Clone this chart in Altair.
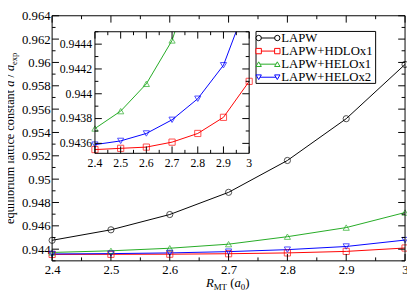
import altair as alt
import pandas as pd

# ---------------- data ----------------
R = [2.4, 2.5, 2.6, 2.7, 2.8, 2.9, 3.0]
series_names = ["LAPW", "LAPW+HDLOx1", "LAPW+HELOx1", "LAPW+HELOx2"]
LAPW = [0.94476, 0.94566, 0.94697, 0.94887, 0.95160, 0.95518, 0.95983]
HDLOx1 = [0.94355, 0.94356, 0.94357, 0.94361, 0.94368, 0.94381, 0.94410]
HELOx1 = [0.94372, 0.94386, 0.94408, 0.94443, 0.94507, 0.94585, 0.94714]
HELOx2 = [0.94359, 0.94362, 0.94368, 0.94379, 0.94396, 0.94423, 0.94478]
colors = ["#000000", "#ff0000", "#22aa22", "#0000ff"]
shapes = ["circle", "square", "triangle-up", "triangle-down"]

x_major = [2.4, 2.5, 2.6, 2.7, 2.8, 2.9, 3.0]
x_minor = [2.45, 2.55, 2.65, 2.75, 2.85, 2.95]
y_major = [0.944, 0.946, 0.948, 0.95, 0.952, 0.954, 0.956, 0.958, 0.96, 0.962, 0.964]
y_minor = [0.943, 0.945, 0.947, 0.949, 0.951, 0.953, 0.955, 0.957, 0.959, 0.961, 0.963]
iy_major = [0.9436, 0.9438, 0.944, 0.9442, 0.9444]
iy_minor = [0.9437, 0.9439, 0.9441, 0.9443, 0.9445]

FONT = "Liberation Serif"
W, H = 360, 250
IX0, IX1, IY0, IY1 = 43.7, 201, 16.3, 140.3
MAJ, MIN = 7, 3.5

rows = []
for name, vals in zip(series_names, [LAPW, HDLOx1, HELOx1, HELOx2]):
    for r, v in zip(R, vals):
        rows.append({"R": r, "v": v, "series": name})
df = pd.DataFrame(rows)
one = pd.DataFrame({"a": [0]})

xs_main = alt.Scale(domain=[2.4, 3.0], range=[0, W], nice=False, zero=False)
ys_main = alt.Scale(domain=[0.943, 0.964], range=[H, 0], nice=False, zero=False)
xs_in = alt.Scale(domain=[2.4, 3.0], range=[IX0, IX1], nice=False, zero=False)
ys_in = alt.Scale(domain=[0.94352, 0.9445], range=[IY1, IY0], nice=False, zero=False)
cscale = alt.Scale(domain=series_names, range=colors)
sscale = alt.Scale(domain=series_names, range=shapes)

def tdf(vals):
    return pd.DataFrame({"t": vals})

# ---------------- main data ----------------
main_line = alt.Chart(df).mark_line(strokeWidth=1).encode(
    x=alt.X("R:Q", scale=xs_main, axis=alt.Axis(values=x_major, format=".1~f", ticks=False, tickSize=0,
            domain=False, grid=False, title=None, labelFont=FONT, labelFontSize=13,
            labelColor="black", labelPadding=3, labelFlush=False, orient="bottom")),
    y=alt.Y("v:Q", scale=ys_main, axis=alt.Axis(values=y_major, format=".3~f", ticks=False, tickSize=0,
            domain=False, grid=False, title=None, labelFont=FONT, labelFontSize=13,
            labelColor="black", labelPadding=2, labelFlush=False, orient="left")),
    color=alt.Color("series:N", scale=cscale, legend=None),
)
main_pts = alt.Chart(df).mark_point(filled=False, size=40, strokeWidth=1).encode(
    x=alt.X("R:Q", scale=xs_main, axis=None),
    y=alt.Y("v:Q", scale=ys_main, axis=None),
    color=alt.Color("series:N", scale=cscale, legend=None),
    shape=alt.Shape("series:N", scale=sscale, legend=None),
)

# ---------------- inset ----------------
inset_bg = alt.Chart(one).mark_rect(fill="white").encode(
    x=alt.value(IX0), x2=alt.value(IX1), y=alt.value(IY0), y2=alt.value(IY1))
inset_line = alt.Chart(df).mark_line(strokeWidth=1).encode(
    x=alt.X("R:Q", scale=xs_in, axis=None),
    y=alt.Y("v:Q", scale=ys_in, axis=None),
    color=alt.Color("series:N", scale=cscale, legend=None),
)
inset_pts = alt.Chart(df).mark_point(filled=False, size=40, strokeWidth=1).encode(
    x=alt.X("R:Q", scale=xs_in, axis=None),
    y=alt.Y("v:Q", scale=ys_in, axis=None),
    color=alt.Color("series:N", scale=cscale, legend=None),
    shape=alt.Shape("series:N", scale=sscale, legend=None),
)
cover = alt.Chart(one).mark_rect(fill="white").encode(
    x=alt.value(IX0 - 1), x2=alt.value(IX1 + 4), y=alt.value(-420), y2=alt.value(IY0))
inset_frame = alt.Chart(one).mark_rect(fillOpacity=0, stroke="black", strokeWidth=1).encode(
    x=alt.value(IX0), x2=alt.value(IX1), y=alt.value(IY0), y2=alt.value(IY1))

# ---------------- frames / ticks ----------------
main_frame = alt.Chart(one).mark_rect(fillOpacity=0, stroke="black", strokeWidth=1).encode(
    x=alt.value(0), x2=alt.value(W), y=alt.value(0), y2=alt.value(H))

def xticks(vals, scale, ybase, length):
    return alt.Chart(tdf(vals)).mark_rule(color="black", strokeWidth=1).encode(
        x=alt.X("t:Q", scale=scale, axis=None), y=alt.value(ybase), y2=alt.value(ybase + length))

def yticks(vals, scale, xbase, length):
    return alt.Chart(tdf(vals)).mark_rule(color="black", strokeWidth=1).encode(
        y=alt.Y("t:Q", scale=scale, axis=None), x=alt.value(xbase), x2=alt.value(xbase + length))

tick_layers = [
    xticks(x_major, xs_main, H, -MAJ), xticks(x_minor, xs_main, H, -MIN),
    xticks(x_major, xs_main, 0, MAJ), xticks(x_minor, xs_main, 0, MIN),
    yticks(y_major, ys_main, 0, MAJ), yticks(y_minor, ys_main, 0, MIN),
    yticks(y_major, ys_main, W, -MAJ), yticks(y_minor, ys_main, W, -MIN),
    xticks(x_major, xs_in, IY1, -MAJ), xticks(x_minor, xs_in, IY1, -MIN),
    xticks(x_major, xs_in, IY0, MAJ), xticks(x_minor, xs_in, IY0, MIN),
    yticks(iy_major, ys_in, IX0, MAJ), yticks(iy_minor, ys_in, IX0, MIN),
    yticks(iy_major, ys_in, IX1, -MAJ), yticks(iy_minor, ys_in, IX1, -MIN),
]

inset_ylab = alt.Chart(tdf(iy_major)).mark_text(align="right", baseline="middle", font=FONT,
                                                fontSize=12, color="black").encode(
    y=alt.Y("t:Q", scale=ys_in, axis=None), x=alt.value(IX0 - 3),
    text=alt.Text("t:Q", format=".4~f"))
inset_xlab = alt.Chart(tdf(x_major)).mark_text(align="center", baseline="alphabetic", font=FONT,
                                               fontSize=12, color="black").encode(
    x=alt.X("t:Q", scale=xs_in, axis=None), y=alt.value(IY1 + 14),
    text=alt.Text("t:Q", format=".1~f"))

# ---------------- legend ----------------
leg = pd.DataFrame({"series": series_names, "row": [0, 1, 2, 3]})
LX0, LX1, LTX = 210.7, 229.7, 233.7
lscale = alt.Scale(domain=[0, 3], range=[22.7, 62.7], nice=False, zero=False)
leg_box = alt.Chart(one).mark_rect(fill="white", stroke="black", strokeWidth=1).encode(
    x=alt.value(208), x2=alt.value(330), y=alt.value(16), y2=alt.value(69))
leg_rule = alt.Chart(leg).mark_rule(strokeWidth=1).encode(
    x=alt.value(LX0), x2=alt.value(LX1), y=alt.Y("row:Q", scale=lscale, axis=None),
    color=alt.Color("series:N", scale=cscale, legend=None))
def leg_pt(xpos):
    return alt.Chart(leg).mark_point(filled=False, size=30, strokeWidth=1, fill="white", fillOpacity=1).encode(
        x=alt.value(xpos), y=alt.Y("row:Q", scale=lscale, axis=None),
        color=alt.Color("series:N", scale=cscale, legend=None),
        shape=alt.Shape("series:N", scale=sscale, legend=None))
leg_text = alt.Chart(leg).mark_text(align="left", baseline="middle", font=FONT, fontSize=13,
                                    color="black").encode(
    x=alt.value(LTX), y=alt.Y("row:Q", scale=lscale, axis=None), text="series:N")

# ---------------- titles ----------------
def txt(s, x, y, size=13, italic=False, angle=0):
    kw = dict(text=s, font=FONT, fontSize=size, color="black", align="left", baseline="alphabetic")
    if italic:
        kw["fontStyle"] = "italic"
    if angle:
        kw["angle"] = angle
    return alt.Chart(one).mark_text(**kw).encode(x=alt.value(x), y=alt.value(y))

XB = 276.3
xtitle = [
    txt("R", 157, XB, italic=True),
    txt("MT", 164.9, XB + 3, size=9),
    txt("(", 181.6, XB),
    txt("a", 186.0, XB, italic=True),
    txt("0", 192.5, XB + 3, size=9),
    txt(")", 197.0, XB),
]
YB = -38.5
ytitle = [
    txt("equilibrium lattice constant", YB, 212.3, size=12.5, angle=270),
    txt("a", YB, 72.4, size=12.5, italic=True, angle=270),
    txt("/", YB, 63.05, size=12.5, angle=270),
    txt("a", YB, 56.45, size=12.5, italic=True, angle=270),
    txt("exp", YB + 3, 50.2, size=8.75, angle=270),
]

chart = alt.layer(
    main_line, main_pts,
    inset_bg, inset_line, inset_pts, cover,
    main_frame, inset_frame,
    *tick_layers,
    inset_ylab, inset_xlab,
    leg_box, leg_rule, leg_pt(LX0), leg_pt(LX1), leg_text,
    *xtitle, *ytitle,
).resolve_scale(x="independent", y="independent").resolve_axis(
    x="independent", y="independent"
).properties(
    width=W, height=H,
    autosize=alt.AutoSizeParams(type="none"),
    padding={"left": 45, "top": 5, "right": 2, "bottom": 36},
    background="white",
).configure_view(stroke=None)

chart.save("out.html", embed_options={"renderer": "svg", "actions": False})
